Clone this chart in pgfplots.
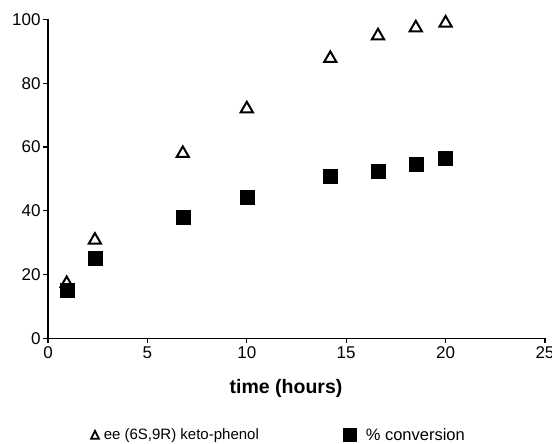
\documentclass[border=0pt]{standalone}
\usepackage{fontspec}
\setmainfont{Liberation Sans}
\usepackage{pgfplots}
\pgfplotsset{compat=1.18}
\begin{document}
\begin{tikzpicture}[x=1pt,y=1pt]
\useasboundingbox (-48,-105.7) rectangle (504,338.3);
\begin{axis}[
  scale only axis, width=497pt, height=318.8pt,
  xmin=0, xmax=25, ymin=0, ymax=100,
  axis lines=left,
  axis line style={-, line width=1.1pt},
  tick align=outside, major tick length=5pt,
  tick style={line width=1.1pt, black},
  xtick={0,5,...,25}, ytick={0,20,...,100},
  /pgf/number format/assume math mode=true,
  tick label style={font=\fontsize{17}{20}\selectfont},
  yticklabel style={xshift=1pt},
  xlabel={time (hours)},
  xlabel style={font=\fontsize{19.5}{22}\selectfont\bfseries, at={(axis description cs:0.479,-0.158)}, anchor=center},
  legend style={draw=none, fill=none, inner sep=0pt, at={(axis description cs:0.0845,-0.303)}, anchor=west,
    legend columns=2, font=\fontsize{15}{18}\selectfont,
    /tikz/every even column/.append style={column sep=82pt}},
  legend cell align=left,
]
\addplot[only marks, mark=triangle, mark size=7pt, mark options={line width=2pt, fill=white, draw=black},
  legend image code/.code={\draw[black, line width=1.8pt, line join=miter] (0.8pt,-3.8pt) -- (8.6pt,-3.8pt) -- (4.7pt,4pt) -- cycle;}]
  coordinates {(0.94,17.2) (2.36,30.8) (6.78,58.0) (10.0,72.0) (14.2,87.8) (16.6,94.9) (18.5,97.4) (20.0,98.9)};
\addlegendentry{\hspace{2pt}ee (6S,9R) keto-phenol}
\addplot[only marks, mark=square*, mark size=7pt, mark options={fill=black, draw=black},
  legend image code/.code={\fill[black] (0pt,-6.5pt) rectangle (13.5pt,6.5pt);}]
  coordinates {(0.95,15.0) (2.36,25.2) (6.78,37.9) (10.0,44.4) (14.2,50.9) (16.6,52.5) (18.5,54.5) (20.0,56.6)};
\addlegendentry{\hspace{7pt}\fontsize{16.5}{18}\selectfont\% conversion}
\end{axis}
\end{tikzpicture}
\end{document}
